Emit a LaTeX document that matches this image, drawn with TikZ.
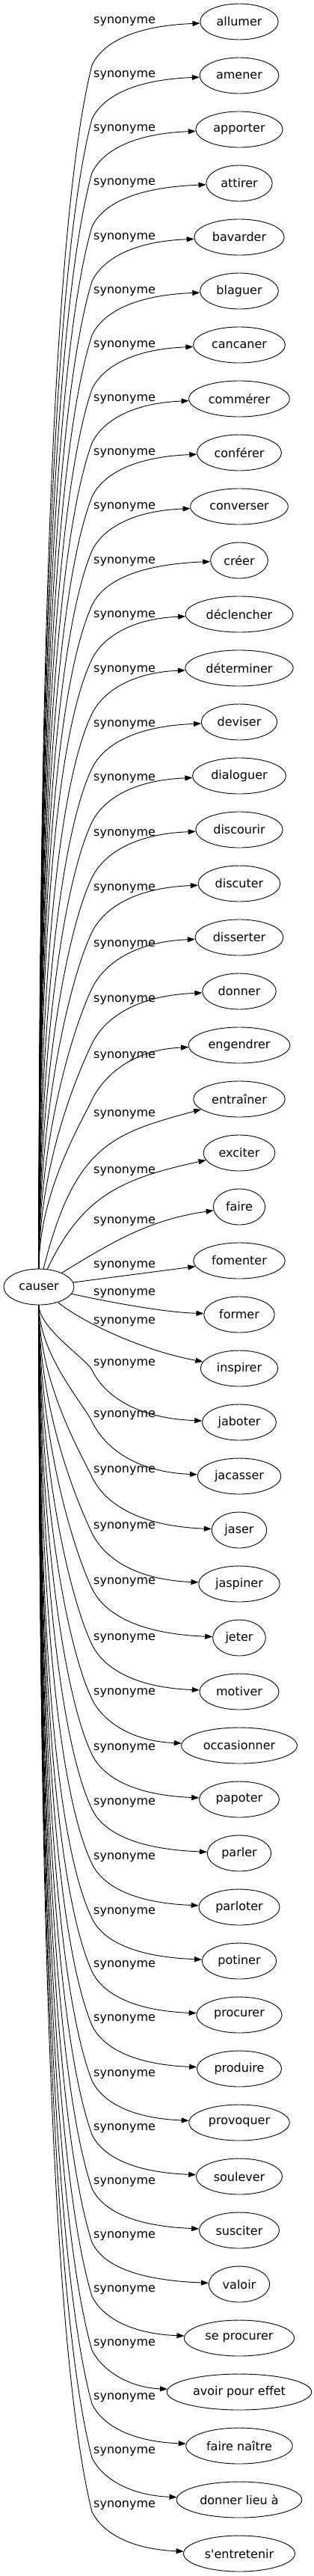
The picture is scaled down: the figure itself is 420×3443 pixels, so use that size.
\documentclass[tikz,border=0pt]{standalone}
\usepackage{fontspec}
\setmainfont{DejaVu Sans}
\usetikzlibrary{shapes.geometric,arrows.meta}

\begin{document}
\begin{tikzpicture}[x=1pt,y=-1pt,
  word/.style={draw,ellipse,line width=0.9pt,inner xsep=6.5pt,inner ysep=2pt,minimum height=48pt,font=\fontsize{16}{19}\selectfont},
  lbl/.style={anchor=west,inner sep=0pt,font=\fontsize{16}{19}\selectfont},
  syn/.style={line width=0.9pt,-{Triangle[length=10pt,width=7pt]}}]
\useasboundingbox (0,0) rectangle (420,3443);
\node[word] (causer) at (52,1720) {causer};
\node[word] (t1) at (320,29) {allumer};
\node[word] (t2) at (320,101) {amener};
\node[word] (t3) at (320,173) {apporter};
\node[word] (t4) at (320,245) {attirer};
\node[word] (t5) at (320,317) {bavarder};
\node[word] (t6) at (320,389) {blaguer};
\node[word] (t7) at (320,461) {cancaner};
\node[word] (t8) at (320,533) {commérer};
\node[word] (t9) at (320,605) {conférer};
\node[word] (t10) at (320,677) {converser};
\node[word] (t11) at (320,749) {créer};
\node[word] (t12) at (320,821) {déclencher};
\node[word] (t13) at (320,893) {déterminer};
\node[word] (t14) at (320,965) {deviser};
\node[word] (t15) at (320,1037) {dialoguer};
\node[word] (t16) at (320,1109) {discourir};
\node[word] (t17) at (320,1181) {discuter};
\node[word] (t18) at (320,1253) {disserter};
\node[word] (t19) at (320,1325) {donner};
\node[word] (t20) at (320,1397) {engendrer};
\node[word] (t21) at (320,1469) {entraîner};
\node[word] (t22) at (320,1541) {exciter};
\node[word] (t23) at (320,1613) {faire};
\node[word] (t24) at (320,1685) {fomenter};
\node[word] (t25) at (320,1757) {former};
\node[word] (t26) at (320,1829) {inspirer};
\node[word] (t27) at (320,1901) {jaboter};
\node[word] (t28) at (320,1973) {jacasser};
\node[word] (t29) at (320,2045) {jaser};
\node[word] (t30) at (320,2117) {jaspiner};
\node[word] (t31) at (320,2189) {jeter};
\node[word] (t32) at (320,2261) {motiver};
\node[word] (t33) at (320,2333) {occasionner};
\node[word] (t34) at (320,2405) {papoter};
\node[word] (t35) at (320,2477) {parler};
\node[word] (t36) at (320,2549) {parloter};
\node[word] (t37) at (320,2621) {potiner};
\node[word] (t38) at (320,2693) {procurer};
\node[word] (t39) at (320,2765) {produire};
\node[word] (t40) at (320,2837) {provoquer};
\node[word] (t41) at (320,2909) {soulever};
\node[word] (t42) at (320,2981) {susciter};
\node[word] (t43) at (320,3053) {valoir};
\node[word] (t44) at (320,3125) {se procurer};
\node[word] (t45) at (320,3197) {avoir pour effet};
\node[word] (t46) at (320,3269) {faire naître};
\node[word] (t47) at (320,3341) {donner lieu à};
\node[word] (t48) at (320,3413) {s\textquotesingle entretenir};
% labels
\foreach \n/\ly in {1/29,2/101,3/173,4/245,5/318,6/390,7/462,8/534,9/606,10/678,11/751,12/823,
  13/896,14/969,15/1041,16/1115,17/1188,18/1263,19/1337,20/1412,21/1490,22/1566,23/1633,24/1692,
  25/1729,26/1767,27/1823,28/1892,29/1966,30/2041,31/2115,32/2190,33/2263,34/2337,35/2410,36/2483,
  37/2556,38/2627,39/2699,40/2773,41/2845,42/2917,43/2989,44/3061,45/3133,46/3205,47/3277,48/3349}
  \node[lbl] (l\n) at (125,\ly) {synonyme};
% edges going up
\foreach \n/\ty/\ky in {1/29/87,2/101/159,3/173/231,4/245/303,5/317/376,6/389/448,7/461/520,
  8/533/592,9/605/664,10/677/736,11/749/809,12/821/881,13/893/954,14/965/1027,15/1037/1099,
  16/1109/1173,17/1181/1246,18/1253/1321,19/1325/1395,20/1397/1470}{
  \pgfmathsetmacro{\cx}{max(70,123-0.0624*(1720-\ky))}
  \draw[syn] (causer) .. controls (52,{(1720+\ky)/2}) and (\cx,{\ky+0.13*(1720-\ky)}) .. (123,\ky)
    .. controls (135,{\ky-25}) and (170,{\ty+6}) .. (t\n);
}
\draw[syn] (causer) .. controls (100,1530) and (150,1515) .. (t21);
\draw[syn] (causer) .. controls (110,1598) and (163,1575) .. (t22);
\draw[syn] (causer) .. controls (150,1660) and (200,1630) .. (t23);
\draw[syn] (causer) -- (t24);
\draw[syn] (causer) .. controls (150,1741) and (220,1754) .. (t25);
\draw[syn] (causer) .. controls (110,1767) and (190,1805) .. (t26);
% edges going down
\foreach \n/\ty/\ky in {27/1901/1831,28/1973/1900,29/2045/1974,30/2117/2049,31/2189/2123,
  32/2261/2198,33/2333/2271,34/2405/2345,35/2477/2418,36/2549/2491,37/2621/2564,38/2693/2635,
  39/2765/2707,40/2837/2781,41/2909/2853,42/2981/2925,43/3053/2997,44/3125/3069,45/3197/3141,
  46/3269/3213,47/3341/3285,48/3413/3357}{
  \pgfmathsetmacro{\cx}{max(70,123-0.0624*(\ky-1720))}
  \draw[syn] (causer) .. controls (52,{(1720+\ky)/2}) and (\cx,{\ky-0.13*(\ky-1720)}) .. (123,\ky)
    .. controls (135,{\ky+25}) and (170,{\ty-6}) .. (t\n);
}
\end{tikzpicture}
\end{document}
